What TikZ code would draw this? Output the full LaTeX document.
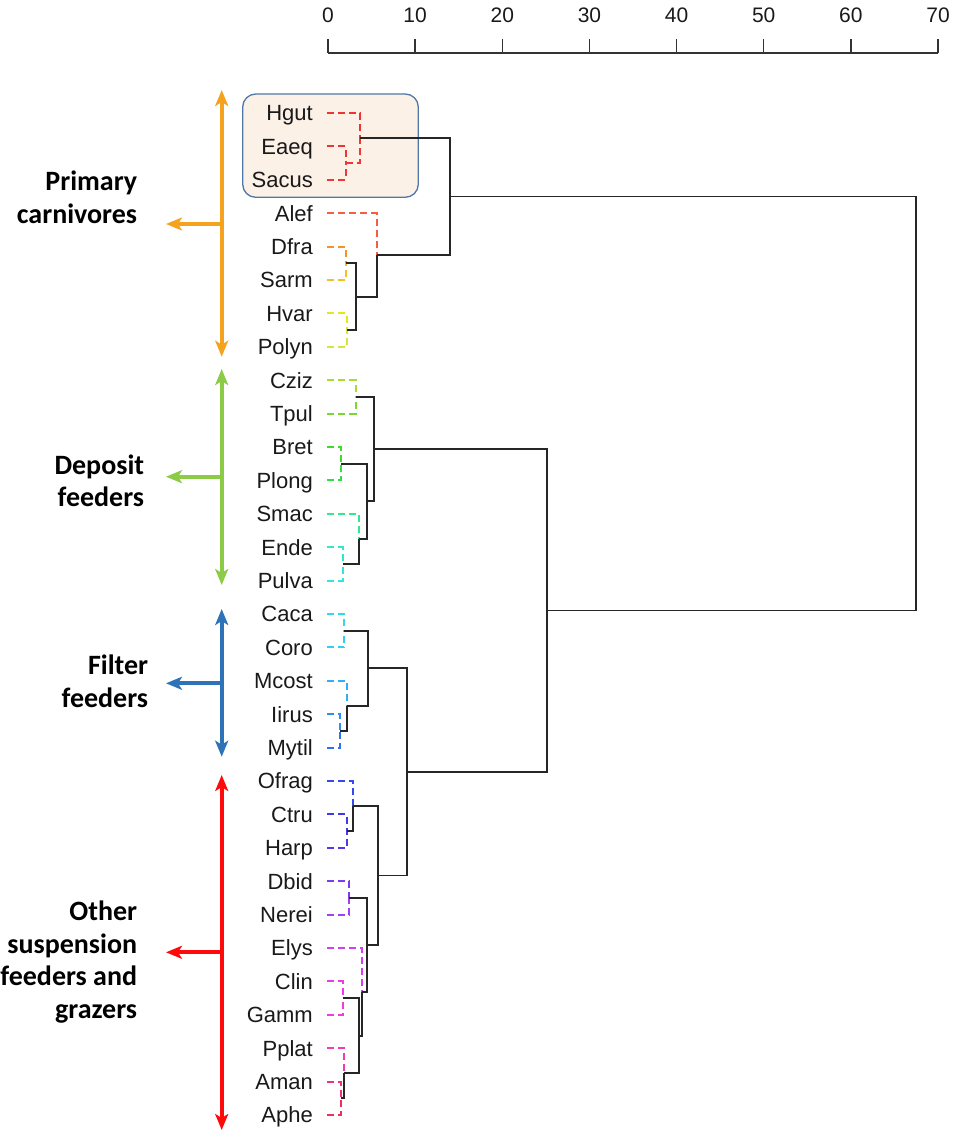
\documentclass[tikz,border=0pt]{standalone}
\usepackage{fontspec}
\setmainfont{Liberation Sans}
\newfontfamily\grpfont{Carlito}
\usetikzlibrary{arrows.meta}
\definecolor{cHgut}{HTML}{EE3333}
\definecolor{cEaeq}{HTML}{EE3333}
\definecolor{cSacus}{HTML}{EE3838}
\definecolor{cAlef}{HTML}{F4603C}
\definecolor{cDfra}{HTML}{F5922A}
\definecolor{cSarm}{HTML}{F5C025}
\definecolor{cHvar}{HTML}{E6E620}
\definecolor{cPolyn}{HTML}{D4E63C}
\definecolor{cCziz}{HTML}{A8DC30}
\definecolor{cTpul}{HTML}{7CD830}
\definecolor{cBret}{HTML}{3CDC28}
\definecolor{cPlong}{HTML}{30E040}
\definecolor{cSmac}{HTML}{30E890}
\definecolor{cEnde}{HTML}{30E8C8}
\definecolor{cPulva}{HTML}{30E4E8}
\definecolor{cCaca}{HTML}{30D8F0}
\definecolor{cCoro}{HTML}{30D0F0}
\definecolor{cMcost}{HTML}{30AEF8}
\definecolor{cIirus}{HTML}{308CF8}
\definecolor{cMytil}{HTML}{3070F0}
\definecolor{cOfrag}{HTML}{3348F0}
\definecolor{cCtru}{HTML}{4038EE}
\definecolor{cHarp}{HTML}{5038EE}
\definecolor{cDbid}{HTML}{7A3CF0}
\definecolor{cNerei}{HTML}{A040F0}
\definecolor{cElys}{HTML}{D040F0}
\definecolor{cClin}{HTML}{E83CE8}
\definecolor{cGamm}{HTML}{F03CD8}
\definecolor{cPplat}{HTML}{F03CB0}
\definecolor{cAman}{HTML}{F03080}
\definecolor{cAphe}{HTML}{F02C60}
\definecolor{arOrange}{HTML}{F5A31E}
\definecolor{arGreen}{HTML}{8CCB45}
\definecolor{arBlue}{HTML}{2E72B8}
\definecolor{arRed}{HTML}{FF0A0A}
\definecolor{boxFill}{HTML}{FCF1E6}
\definecolor{boxLine}{HTML}{4F78A8}
\begin{document}
\begin{tikzpicture}[x=1pt,y=-1pt,
  leaflabel/.style={anchor=base east, inner sep=0pt, font=\fontsize{22}{26}\selectfont, text=black!90},
  ticklabel/.style={anchor=base, inner sep=0pt, font=\fontsize{21}{25}\selectfont, text=black!90},
  dsh/.style={line width=2pt, dash pattern=on 7pt off 4pt},
  blk/.style={line width=1.9pt, draw=black!85},
  axisline/.style={line width=1.5pt, draw=black!80},
  grp/.style={anchor=base east, align=right, inner sep=0pt, font=\grpfont\bfseries\fontsize{28}{32.5}\selectfont},
  twoarrow/.style={line width=4pt, {Stealth[length=16pt,width=13pt,inset=4pt]}-{Stealth[length=16pt,width=13pt,inset=4pt]}},
  onearrow/.style={line width=4pt, -{Stealth[length=16pt,width=13pt,inset=4pt]}},
  groupbox/.style={draw=boxLine, fill=boxFill, line width=1.3pt, rounded corners=13pt}
]
\useasboundingbox (0,0) rectangle (954,1134);

% highlighted box
\draw[groupbox] (242.7,94) rectangle (418.3,197.3);

% axis
\coordinate (ax0) at (328,53);
\coordinate (ax70) at (938,53);
\draw[axisline] (ax0) -- (ax70);
\foreach \v/\t in {0/0,1/10,2/20,3/30,4/40,5/50,6/60,7/70}{
  \coordinate (tkb\v) at ({328+87.143*\v},53);
  \coordinate (tkt\v) at ({328+87.143*\v},39);
  \draw[axisline] (tkb\v) -- (tkt\v);
  \node[ticklabel] (tl\v) at ({328+87.143*\v},23) {\t};
}

% leaves
\foreach \n/\y in {Hgut/113,Eaeq/146.4,Sacus/179.8,Alef/213.2,Dfra/246.6,Sarm/280,Hvar/313.4,Polyn/346.8,
  Cziz/380.2,Tpul/413.6,Bret/447,Plong/480.4,Smac/513.8,Ende/547.2,Pulva/580.6,
  Caca/614,Coro/647.4,Mcost/680.8,Iirus/714.2,Mytil/747.6,
  Ofrag/781,Ctru/814.4,Harp/847.8,Dbid/881.2,Nerei/914.6,Elys/948,Clin/981.4,Gamm/1014.8,Pplat/1048.2,Aman/1081.6,Aphe/1115}{
  \node[leaflabel] (\n) at (313,\y+7.8) {\n};
  \coordinate (p\n) at (327,\y);
}

% merge points
\coordinate (mES) at (345.7,163.1);
\coordinate (mHES) at (360,138);
\coordinate (mDS) at (345.7,263.3);
\coordinate (mHP) at (346.7,330.1);
\coordinate (mDSHP) at (355.7,296.7);
\coordinate (mA) at (376.7,255);
\coordinate (mCarn) at (450,196.5);
\coordinate (mCT) at (355.7,396.9);
\coordinate (mBP) at (341,463.7);
\coordinate (mEP) at (342.7,563.9);
\coordinate (mS) at (359.3,538.9);
\coordinate (mBPS) at (366.7,501.3);
\coordinate (mDep) at (374,449.1);
\coordinate (mCC) at (344.3,630.7);
\coordinate (mIM) at (340,730.9);
\coordinate (mM) at (347.3,705.9);
\coordinate (mFil) at (367.7,668.3);
\coordinate (mCH) at (346.7,831.1);
\coordinate (mO) at (353.3,806.1);
\coordinate (mDN) at (349.3,897.9);
\coordinate (mCG) at (342.7,998.1);
\coordinate (mAA) at (341,1098.3);
\coordinate (mP) at (344.3,1073.3);
\coordinate (mCGP) at (359.3,1035.7);
\coordinate (mE) at (361.7,991.8);
\coordinate (mDNE) at (367.3,944.9);
\coordinate (mOth) at (377.7,875.5);
\coordinate (mFO) at (406.7,771.9);
\coordinate (mDFO) at (547.3,610.5);
\coordinate (mRoot) at (916,403.5);

% carnivores
\draw[dsh,cHgut] (pHgut) -| (mHES);
\draw[dsh,cEaeq] (pEaeq) -| (mES);
\draw[dsh,cSacus] (pSacus) -| (mES);
\draw[dsh,cSacus] (mES) -| (mHES);
\draw[dsh,cDfra] (pDfra) -| (mDS);
\draw[dsh,cSarm] (pSarm) -| (mDS);
\draw[dsh,cHvar] (pHvar) -| (mHP);
\draw[dsh,cPolyn] (pPolyn) -| (mHP);
\draw[blk] (mDS) -| (mDSHP);
\draw[blk] (mHP) -| (mDSHP);
\draw[dsh,cAlef] (pAlef) -| (mA);
\draw[blk] (mDSHP) -| (mA);
\draw[blk] (mHES) -| (mCarn);
\draw[blk] (mA) -| (mCarn);
% deposit feeders
\draw[dsh,cCziz] (pCziz) -| (mCT);
\draw[dsh,cTpul] (pTpul) -| (mCT);
\draw[dsh,cBret] (pBret) -| (mBP);
\draw[dsh,cPlong] (pPlong) -| (mBP);
\draw[dsh,cSmac] (pSmac) -| (mS);
\draw[dsh,cEnde] (pEnde) -| (mEP);
\draw[dsh,cPulva] (pPulva) -| (mEP);
\draw[blk] (mEP) -| (mS);
\draw[blk] (mBP) -| (mBPS);
\draw[blk] (mS) -| (mBPS);
\draw[blk] (mCT) -| (mDep);
\draw[blk] (mBPS) -| (mDep);
% filter feeders
\draw[dsh,cCaca] (pCaca) -| (mCC);
\draw[dsh,cCoro] (pCoro) -| (mCC);
\draw[dsh,cMcost] (pMcost) -| (mM);
\draw[dsh,cIirus] (pIirus) -| (mIM);
\draw[dsh,cMytil] (pMytil) -| (mIM);
\draw[blk] (mIM) -| (mM);
\draw[blk] (mCC) -| (mFil);
\draw[blk] (mM) -| (mFil);
% others
\draw[dsh,cOfrag] (pOfrag) -| (mO);
\draw[dsh,cCtru] (pCtru) -| (mCH);
\draw[dsh,cHarp] (pHarp) -| (mCH);
\draw[blk] (mCH) -| (mO);
\draw[dsh,cDbid] (pDbid) -| (mDN);
\draw[dsh,cNerei] (pNerei) -| (mDN);
\draw[dsh,cElys] (pElys) -| (mE);
\draw[dsh,cClin] (pClin) -| (mCG);
\draw[dsh,cGamm] (pGamm) -| (mCG);
\draw[dsh,cPplat] (pPplat) -| (mP);
\draw[dsh,cAman] (pAman) -| (mAA);
\draw[dsh,cAphe] (pAphe) -| (mAA);
\draw[blk] (mAA) -| (mP);
\draw[blk] (mCG) -| (mCGP);
\draw[blk] (mP) -| (mCGP);
\draw[blk] (mCGP) -| (mE);
\draw[blk] (mDN) -| (mDNE);
\draw[blk] (mE) -| (mDNE);
\draw[blk] (mO) -| (mOth);
\draw[blk] (mDNE) -| (mOth);
% upper levels
\draw[blk] (mFil) -| (mFO);
\draw[blk] (mOth) -| (mFO);
\draw[blk] (mDep) -| (mDFO);
\draw[blk] (mFO) -| (mDFO);
\draw[blk] (mCarn) -| (mRoot);
\draw[blk] (mDFO) -| (mRoot);

% group arrows
\coordinate (oTop) at (221.7,90);
\coordinate (oBot) at (221.7,356.7);
\coordinate (oMid) at (221.7,224);
\coordinate (oTip) at (166,224);
\draw[twoarrow,arOrange] (oTop) -- (oBot);
\draw[onearrow,arOrange] (oMid) -- (oTip);
\coordinate (gTop) at (221.7,369);
\coordinate (gBot) at (221.7,585);
\coordinate (gMid) at (221.7,476.7);
\coordinate (gTip) at (166,476.7);
\draw[twoarrow,arGreen] (gTop) -- (gBot);
\draw[onearrow,arGreen] (gMid) -- (gTip);
\coordinate (bTop) at (221.7,609);
\coordinate (bBot) at (221.7,756.7);
\coordinate (bMid) at (221.7,683.3);
\coordinate (bTip) at (166,683.3);
\draw[twoarrow,arBlue] (bTop) -- (bBot);
\draw[onearrow,arBlue] (bMid) -- (bTip);
\coordinate (rTop) at (221.7,775);
\coordinate (rBot) at (221.7,1130);
\coordinate (rMid) at (221.7,952.3);
\coordinate (rTip) at (166,952.3);
\draw[twoarrow,arRed] (rTop) -- (rBot);
\draw[onearrow,arRed] (rMid) -- (rTip);

% group labels (anchored at the baseline of the last line)
\node[grp] (gCarn) at (137.3,223.3) {Primary\\carnivores};
\node[grp] (gDep) at (144.3,506.7) {Deposit\\feeders};
\node[grp] (gFil) at (148.3,707.3) {Filter\\feeders};
\node[grp] (gOth) at (137.3,1018.3) {Other\\suspension\\feeders and\\grazers};
\end{tikzpicture}
\end{document}
